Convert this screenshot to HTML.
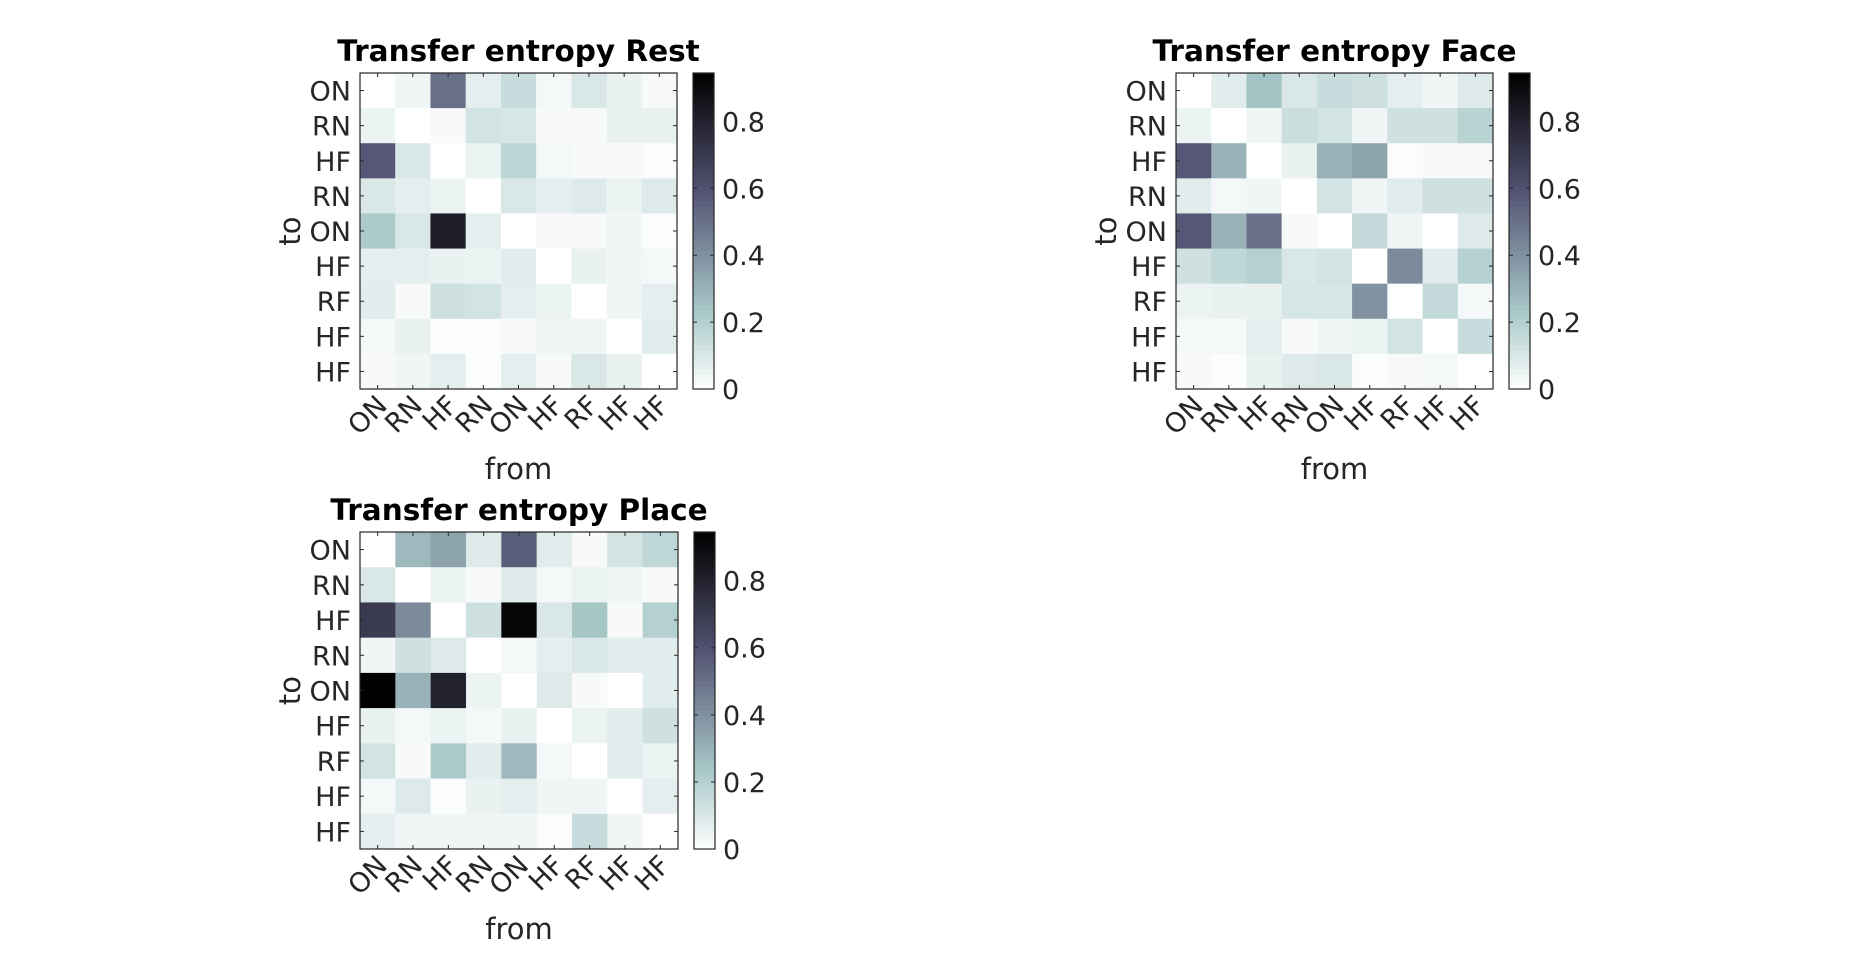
<!DOCTYPE html>
<html><head><meta charset="utf-8"><style>
html,body{margin:0;padding:0;background:#fff;}
svg{display:block;font-family:"DejaVu Sans","Liberation Sans",sans-serif;}
</style></head><body>
<svg id="fig" width="1853" height="970" viewBox="0 0 1853 970" xmlns="http://www.w3.org/2000/svg"></svg>
<script>
const labels = ["ON","RN","HF","RN","ON","HF","RF","HF","HF"];
const cbTicks = [0,0.2,0.4,0.6,0.8];
const cbMax = 0.945;
const restValues = [
[0,.04,.5,.07,.15,.03,.1,.06,.02],
[.05,0,.02,.12,.11,.02,.02,.06,.06],
[.58,.1,0,.05,.18,.03,.02,.02,.01],
[.1,.07,.05,0,.1,.07,.09,.05,.09],
[.22,.1,.82,.07,0,.02,.02,.04,.01],
[.07,.07,.06,.05,.08,0,.06,.04,.03],
[.08,.02,.13,.12,.07,.05,0,.04,.07],
[.03,.06,.01,.01,.02,.04,.04,0,.08],
[.02,.04,.07,.01,.07,.02,.1,.06,0]];
const faceValues = [
[0,.08,.25,.1,.15,.13,.07,.04,.09],
[.05,0,.04,.14,.12,.04,.13,.13,.19],
[.58,.3,0,.06,.3,.35,.01,.02,.02],
[.08,.03,.04,0,.12,.04,.08,.13,.13],
[.58,.3,.5,.02,0,.16,.04,0,.09],
[.13,.17,.2,.1,.12,0,.42,.08,.2],
[.05,.06,.06,.11,.11,.4,0,.16,.03],
[.03,.03,.07,.02,.04,.05,.12,0,.15],
[.02,.01,.06,.09,.1,.01,.02,.03,0]];
const placeValues = [
[0,.28,.35,.09,.56,.08,.02,.12,.17],
[.1,0,.05,.02,.09,.03,.05,.04,.02],
[.7,.42,0,.13,.92,.1,.24,.02,.2],
[.04,.13,.09,0,.03,.07,.1,.08,.08],
[.94,.3,.8,.05,0,.09,.02,0,.08],
[.06,.03,.05,.03,.06,0,.05,.08,.13],
[.12,.02,.23,.08,.28,.03,0,.08,.05],
[.03,.09,.01,.06,.07,.04,.04,0,.07],
[.07,.04,.04,.04,.04,.01,.15,.04,0]];

const NS="http://www.w3.org/2000/svg";
const svg=document.getElementById('fig');
function mk(tag,attrs,parent,text){const e=document.createElementNS(NS,tag);for(const k in attrs)e.setAttribute(k,attrs[k]);if(text!==undefined)e.textContent=text;(parent||svg).appendChild(e);return e;}
function cl(v){return Math.max(0,Math.min(1,v));}
function bone(v){
  const x=1-cl(v/cbMax);
  const hr=cl(x*8/3), hg=cl(x*8/3-1), hb=cl(x*4-3);
  const r=(7*x+hb)/8, g=(7*x+hg)/8, b=(7*x+hr)/8;
  return `rgb(${Math.round(r*255)},${Math.round(g*255)},${Math.round(b*255)})`;
}
function panel(name,title,vals,L,R,T,B,cbL,cbR){
  const g=mk('g',{},svg);
  
  
  const n=labels.length, cw=(R-L)/n, ch=(B-T)/n;
  const xs=i=>L+i*cw, ys=j=>T+j*ch;
  const t=mk('text',{x:(L+R)/2,y:T-12,'text-anchor':'middle','font-size':29.5,'font-weight':'bold',fill:'#000'},g,title);
  
  for(let r=0;r<n;r++)for(let c=0;c<n;c++){
    const cell=mk('rect',{x:xs(c),y:ys(r),width:cw+0.5,height:ch+0.5,fill:bone(vals[r][c])},g);
    
    
  }
  mk('rect',{x:L,y:T,width:R-L,height:B-T,fill:'none',stroke:'#262626','stroke-width':1.2},g);
  for(let i=0;i<n;i++){
    const cx=xs(i)+cw/2, cy=ys(i)+ch/2;
    mk('line',{x1:cx,y1:B,x2:cx,y2:B-4,stroke:'#262626'},g);
    mk('line',{x1:cx,y1:T,x2:cx,y2:T+4,stroke:'#262626'},g);
    mk('line',{x1:L,y1:cy,x2:L+4,y2:cy,stroke:'#262626'},g);
    mk('line',{x1:R,y1:cy,x2:R-4,y2:cy,stroke:'#262626'},g);
    const yl=mk('text',{x:L-9,y:cy+10,'text-anchor':'end','font-size':27,fill:'#262626'},g,labels[i]);
    
    const xl=mk('text',{x:0,y:0,'text-anchor':'end','font-size':27,fill:'#262626',transform:`translate(${cx+11},${B+18}) rotate(-45)`},g,labels[i]);
    
  }
  const xt=mk('text',{x:(L+R)/2,y:B+90,'text-anchor':'middle','font-size':29,fill:'#262626'},g,'from');
  
  const yt=mk('text',{x:0,y:0,'text-anchor':'middle','font-size':29,fill:'#262626',transform:`translate(${L-60},${(T+B)/2}) rotate(-90)`},g,'to');
  
  const cb=mk('g',{},g);
  
  const steps=64;
  for(let s=0;s<steps;s++){
    const y0=B-(s+1)*(B-T)/steps;
    mk('rect',{x:cbL,y:y0,width:cbR-cbL,height:(B-T)/steps+0.6,fill:bone((s+0.5)/steps*cbMax)},cb);
  }
  mk('rect',{x:cbL,y:T,width:cbR-cbL,height:B-T,fill:'none',stroke:'#262626','stroke-width':1.2},cb);
  cbTicks.forEach(v=>{
    const y=B-v/cbMax*(B-T);
    mk('line',{x1:cbL,y1:y,x2:cbL+4,y2:y,stroke:'#262626'},cb);
    mk('line',{x1:cbR,y1:y,x2:cbR-4,y2:y,stroke:'#262626'},cb);
    const tl=mk('text',{x:cbR+8,y:y+10,'font-size':27,fill:'#262626'},cb,v===0?'0':v.toFixed(1));
    
  });
}
panel('rest-panel','Transfer entropy Rest',restValues,360,677,73,389,693,714);
panel('face-panel','Transfer entropy Face',faceValues,1176,1493,73,389,1509,1530);
panel('place-panel','Transfer entropy Place',placeValues,360,678,532,849,694,715);
</script>
</body></html>
